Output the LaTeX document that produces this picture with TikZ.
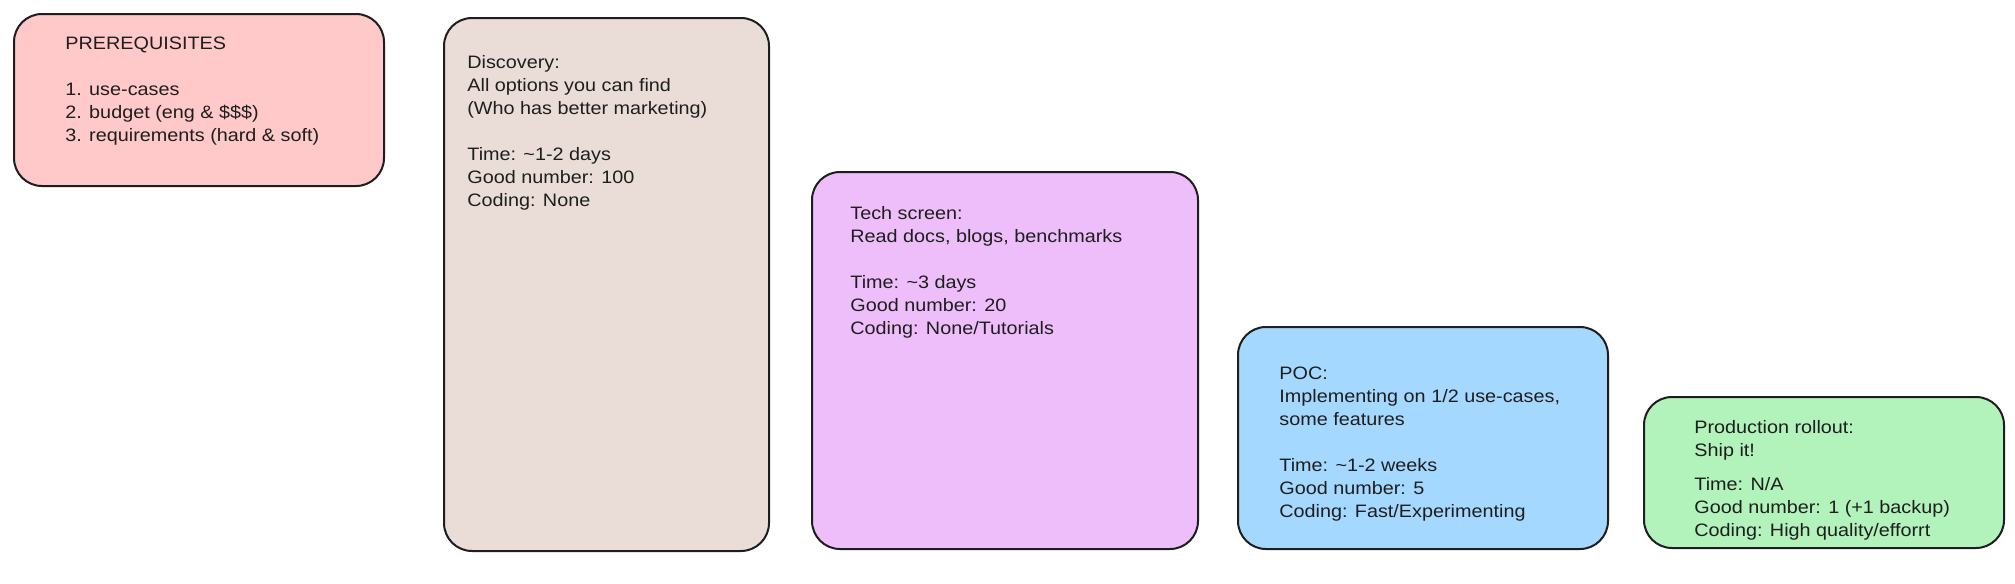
\documentclass[tikz,border=0pt]{standalone}
\usepackage{fontspec}
\setmainfont{Liberation Sans}[FakeStretch=1.1]
\definecolor{ink}{HTML}{1E1E1E}
\definecolor{cpink}{HTML}{FFC9C9}
\definecolor{cbeige}{HTML}{EADDD7}
\definecolor{cpurple}{HTML}{EEBEFA}
\definecolor{cblue}{HTML}{A5D8FF}
\definecolor{cgreen}{HTML}{B2F2BB}
\begin{document}
\begin{tikzpicture}[x=0.5pt,y=-0.5pt,
  card/.style={draw=ink, line width=1pt, rounded corners=14pt, inner sep=0pt, anchor=north west},
  txt/.style={anchor=north west, inner sep=0pt, align=left, text=ink, font=\fontsize{9}{11.5}\selectfont}]
\useasboundingbox (0,0) rectangle (2015,584);
\fill[white] (0,0) rectangle (2015,584);
% boxes
\node[card, fill=cpink, minimum width=185pt, minimum height=86pt] (b1) at (13,13) {};
\node[card, fill=cbeige, minimum width=162.5pt, minimum height=266.5pt] (b2) at (443,17) {};
\node[card, fill=cpurple, minimum width=193pt, minimum height=188.5pt] (b3) at (811,171) {};
\node[card, fill=cblue, minimum width=185pt, minimum height=111pt] (b4) at (1237,326) {};
\node[card, fill=cgreen, minimum width=180pt, minimum height=75.5pt] (b5) at (1643,396) {};
% texts
\node[txt] (t1) at (65,36.5) {PREREQUISITES\\[11.5pt]
1. use-cases\\
2. budget (eng \& \$\$\$)\\
3. requirements (hard \& soft)};
\node[txt] (t2) at (467,55.5) {Discovery:\\
All options you can find\\
(Who has better marketing)\\[11.5pt]
Time: \textasciitilde1-2 days\\
Good number: 100\\
Coding: None};
\node[txt] (t3) at (850,206.5) {Tech screen:\\
Read docs, blogs, benchmarks\\[11.5pt]
Time: \textasciitilde3 days\\
Good number: 20\\
Coding: None/Tutorials};
\node[txt] (t4) at (1279,366.5) {POC:\\
Implementing on 1/2 use-cases,\\
some features\\[11.5pt]
Time: \textasciitilde1-2 weeks\\
Good number: 5\\
Coding: Fast/Experimenting};
\node[txt] (t5) at (1694,420.5) {Production rollout:\\
Ship it!\\[5.5pt]
Time: N/A\\
Good number: 1 (+1 backup)\\
Coding: High quality/efforrt};
\end{tikzpicture}
\end{document}
